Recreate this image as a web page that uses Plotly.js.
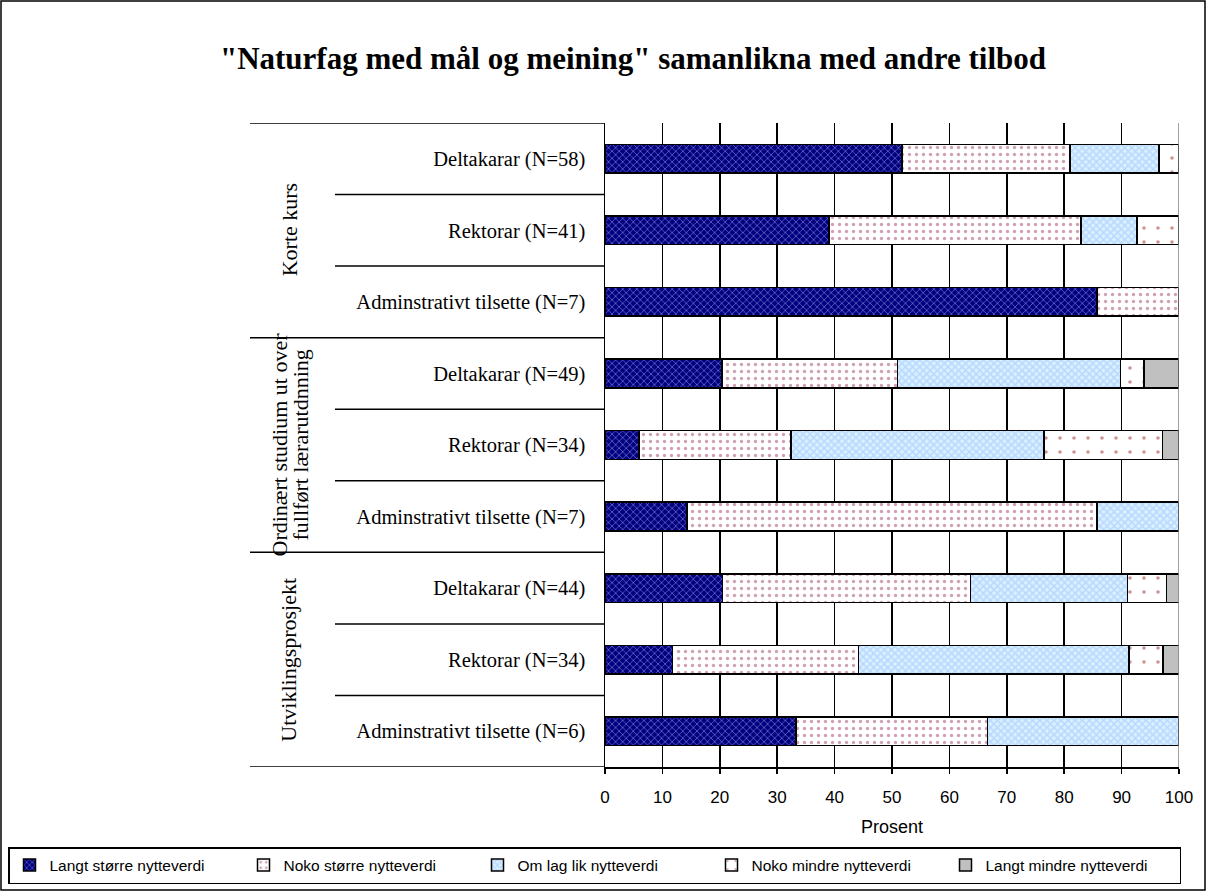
<!DOCTYPE html>
<html>
<head>
<meta charset="utf-8">
<script src="https://cdn.plot.ly/plotly-3.0.1.min.js"></script>
<style>
  html, body { margin: 0; padding: 0; background: #ffffff; }
  #chart { width: 1206px; height: 891px; }
</style>
</head>
<body>
<div id="chart"></div>
<script>
// ---- Data ----
const groups = ["Korte kurs", "Ordinært studium ut over<br>fullført lærarutdnning", "Utviklingsprosjekt"];
const groupOf = [0, 0, 0, 1, 1, 1, 2, 2, 2];
const respondents = [
  "Deltakarar (N=58)", "Rektorar (N=41)", "Adminstrativt tilsette (N=7)",
  "Deltakarar (N=49)", "Rektorar (N=34)", "Adminstrativt tilsette (N=7)",
  "Deltakarar (N=44)", "Rektorar (N=34)", "Adminstrativt tilsette (N=6)"
];
const seriesNames = [
  "Langt større nytteverdi", "Noko større nytteverdi", "Om lag lik nytteverdi",
  "Noko mindre nytteverdi", "Langt mindre nytteverdi"
];
const langtStorre = [51.7, 39.0, 85.7, 20.4, 5.9, 14.3, 20.5, 11.8, 33.3];
const nokoStorre  = [29.3, 43.9, 14.3, 30.6, 26.5, 71.4, 43.2, 32.4, 33.3];
const omLagLik    = [15.5, 9.8, 0, 38.8, 44.1, 14.3, 27.3, 47.1, 33.3];
const nokoMindre  = [3.4, 7.3, 0, 4.1, 20.6, 0, 6.8, 5.9, 0];
const langtMindre = [0, 0, 0, 6.1, 2.9, 0, 2.3, 2.9, 0];
const xTicks = [0, 10, 20, 30, 40, 50, 60, 70, 80, 90, 100];

// ---- Styles ----
const styles = [
  { color: "#000080", pattern: { shape: "x", fgcolor: "#c8c8ff", bgcolor: "#000080", size: 5, solidity: 0.3, fillmode: "overlay" } },
  { color: "#ffffff", pattern: { shape: ".", fgcolor: "#a0406a", bgcolor: "#ffffff", size: 7, solidity: 0.18, fillmode: "overlay" } },
  { color: "#dcefff", pattern: { shape: "x", fgcolor: "#8fc4ff", bgcolor: "#dcefff", size: 5, solidity: 0.5, fillmode: "overlay" } },
  { color: "#ffffff", pattern: { shape: ".", fgcolor: "#a02020", bgcolor: "#ffffff", size: 14, solidity: 0.05, fillmode: "overlay" } },
  { color: "#c0c0c0", pattern: { shape: "" } }
];
const seriesValues = [langtStorre, nokoStorre, omLagLik, nokoMindre, langtMindre];
const yIdx = respondents.map((_, i) => i);

const traces = seriesValues.map((vals, s) => ({
  type: "bar",
  orientation: "h",
  name: seriesNames[s],
  x: vals,
  y: yIdx,
  width: 0.4,
  marker: {
    color: styles[s].color,
    pattern: styles[s].pattern,
    line: { color: "#000000", width: 1.5 }
  },
  hoverinfo: "x+name"
}));

// ---- Geometry helpers (paper coords relative to plot area) ----
const W = 1206, H = 891;
const mL = 605, mR = 27, mT = 123, mB = 124;
const pw = W - mL - mR, ph = H - mT - mB;
const px = v => (v - mL) / pw;          // page x -> paper x
const py = v => (H - mB - v) / ph;       // page y -> paper y

const shapes = [];
// separator lines in the label area
for (let i = 0; i <= respondents.length; i++) {
  const b = i - 0.5;
  const isGroupEdge = (i === 0 || i === respondents.length || groupOf[i] !== groupOf[i - 1]);
  shapes.push({
    type: "line", xref: "paper", yref: "y",
    x0: isGroupEdge ? px(250) : px(335), x1: 0,
    y0: b, y1: b,
    line: { color: "#000000", width: 1.5 }
  });
}
// outer frame
shapes.push({
  type: "rect", xref: "paper", yref: "paper",
  x0: px(1), x1: px(1205), y0: py(890), y1: py(1),
  line: { color: "#000000", width: 1.5 }
});
// right plot edge
shapes.push({
  type: "line", xref: "x", yref: "paper", x0: 100, x1: 100, y0: 0, y1: 1,
  line: { color: "#808080", width: 1.5 }
});

// group labels (one annotation per text line, tight line spacing)
const annotations = [];
groups.forEach((g, gi) => {
  const members = yIdx.filter(i => groupOf[i] === gi);
  const mid = (members[0] + members[members.length - 1]) / 2;
  const lines = g.split("<br>");
  lines.forEach((ln, k) => {
    annotations.push({
      text: ln, xref: "paper", yref: "y",
      x: px(289), y: mid,
      xshift: (k - (lines.length - 1) / 2) * 21,
      textangle: -90, showarrow: false,
      xanchor: "center", yanchor: "middle",
      font: { family: "Liberation Serif, Times New Roman, serif", size: 22, color: "#000000" },
      align: "center"
    });
  });
});

const layout = {
  width: W, height: H,
  margin: { l: mL, r: mR, t: mT, b: mB, pad: 0, autoexpand: false },
  paper_bgcolor: "#ffffff",
  plot_bgcolor: "#ffffff",
  barmode: "stack",
  bargap: 0.6,
  showlegend: true,
  title: {
    text: "<b>\"Naturfag med mål og meining\" samanlikna med andre tilbod</b>",
    font: { family: "Liberation Serif, Times New Roman, serif", size: 31, color: "#000000" },
    xref: "container", x: 633 / W, xanchor: "center",
    yref: "container", y: 1 - 58 / H, yanchor: "middle"
  },
  xaxis: {
    range: [0, 100],
    tickvals: xTicks,
    ticktext: xTicks.map(String),
    showgrid: true, gridcolor: "#000000", gridwidth: 1.5,
    zeroline: false,
    showline: true, linecolor: "#000000", linewidth: 1.5,
    ticks: "outside", ticklen: 5, tickcolor: "#000000", tickwidth: 1.5,
    ticklabelstandoff: 9,
    tickfont: { family: "Liberation Sans, Arial, sans-serif", size: 17, color: "#000000" },
    title: { text: "Prosent", standoff: 14,
      font: { family: "Liberation Sans, Arial, sans-serif", size: 18, color: "#000000" } },
    fixedrange: true
  },
  yaxis: {
    range: [respondents.length - 0.5, -0.5],
    tickvals: yIdx,
    ticktext: respondents,
    showgrid: false, zeroline: false,
    showline: true, linecolor: "#000000", linewidth: 1.5,
    ticks: "", ticklabelstandoff: 14,
    tickfont: { family: "Liberation Serif, Times New Roman, serif", size: 20.5, color: "#000000" },
    fixedrange: true
  },
  legend: {
    orientation: "h",
    xref: "paper", yref: "paper",
    x: px(8), xanchor: "left",
    y: py(847), yanchor: "top",
    bordercolor: "#000000", borderwidth: 1.5,
    bgcolor: "#ffffff",
    font: { family: "Liberation Sans, Arial, sans-serif", size: 15.5, color: "#000000" },
    entrywidth: 189, entrywidthmode: "pixels",
    itemwidth: 30,
    traceorder: "normal"
  },
  shapes: shapes,
  annotations: annotations
};

Plotly.newPlot("chart", traces, layout, { displayModeBar: false, staticPlot: true });
</script>
</body>
</html>
